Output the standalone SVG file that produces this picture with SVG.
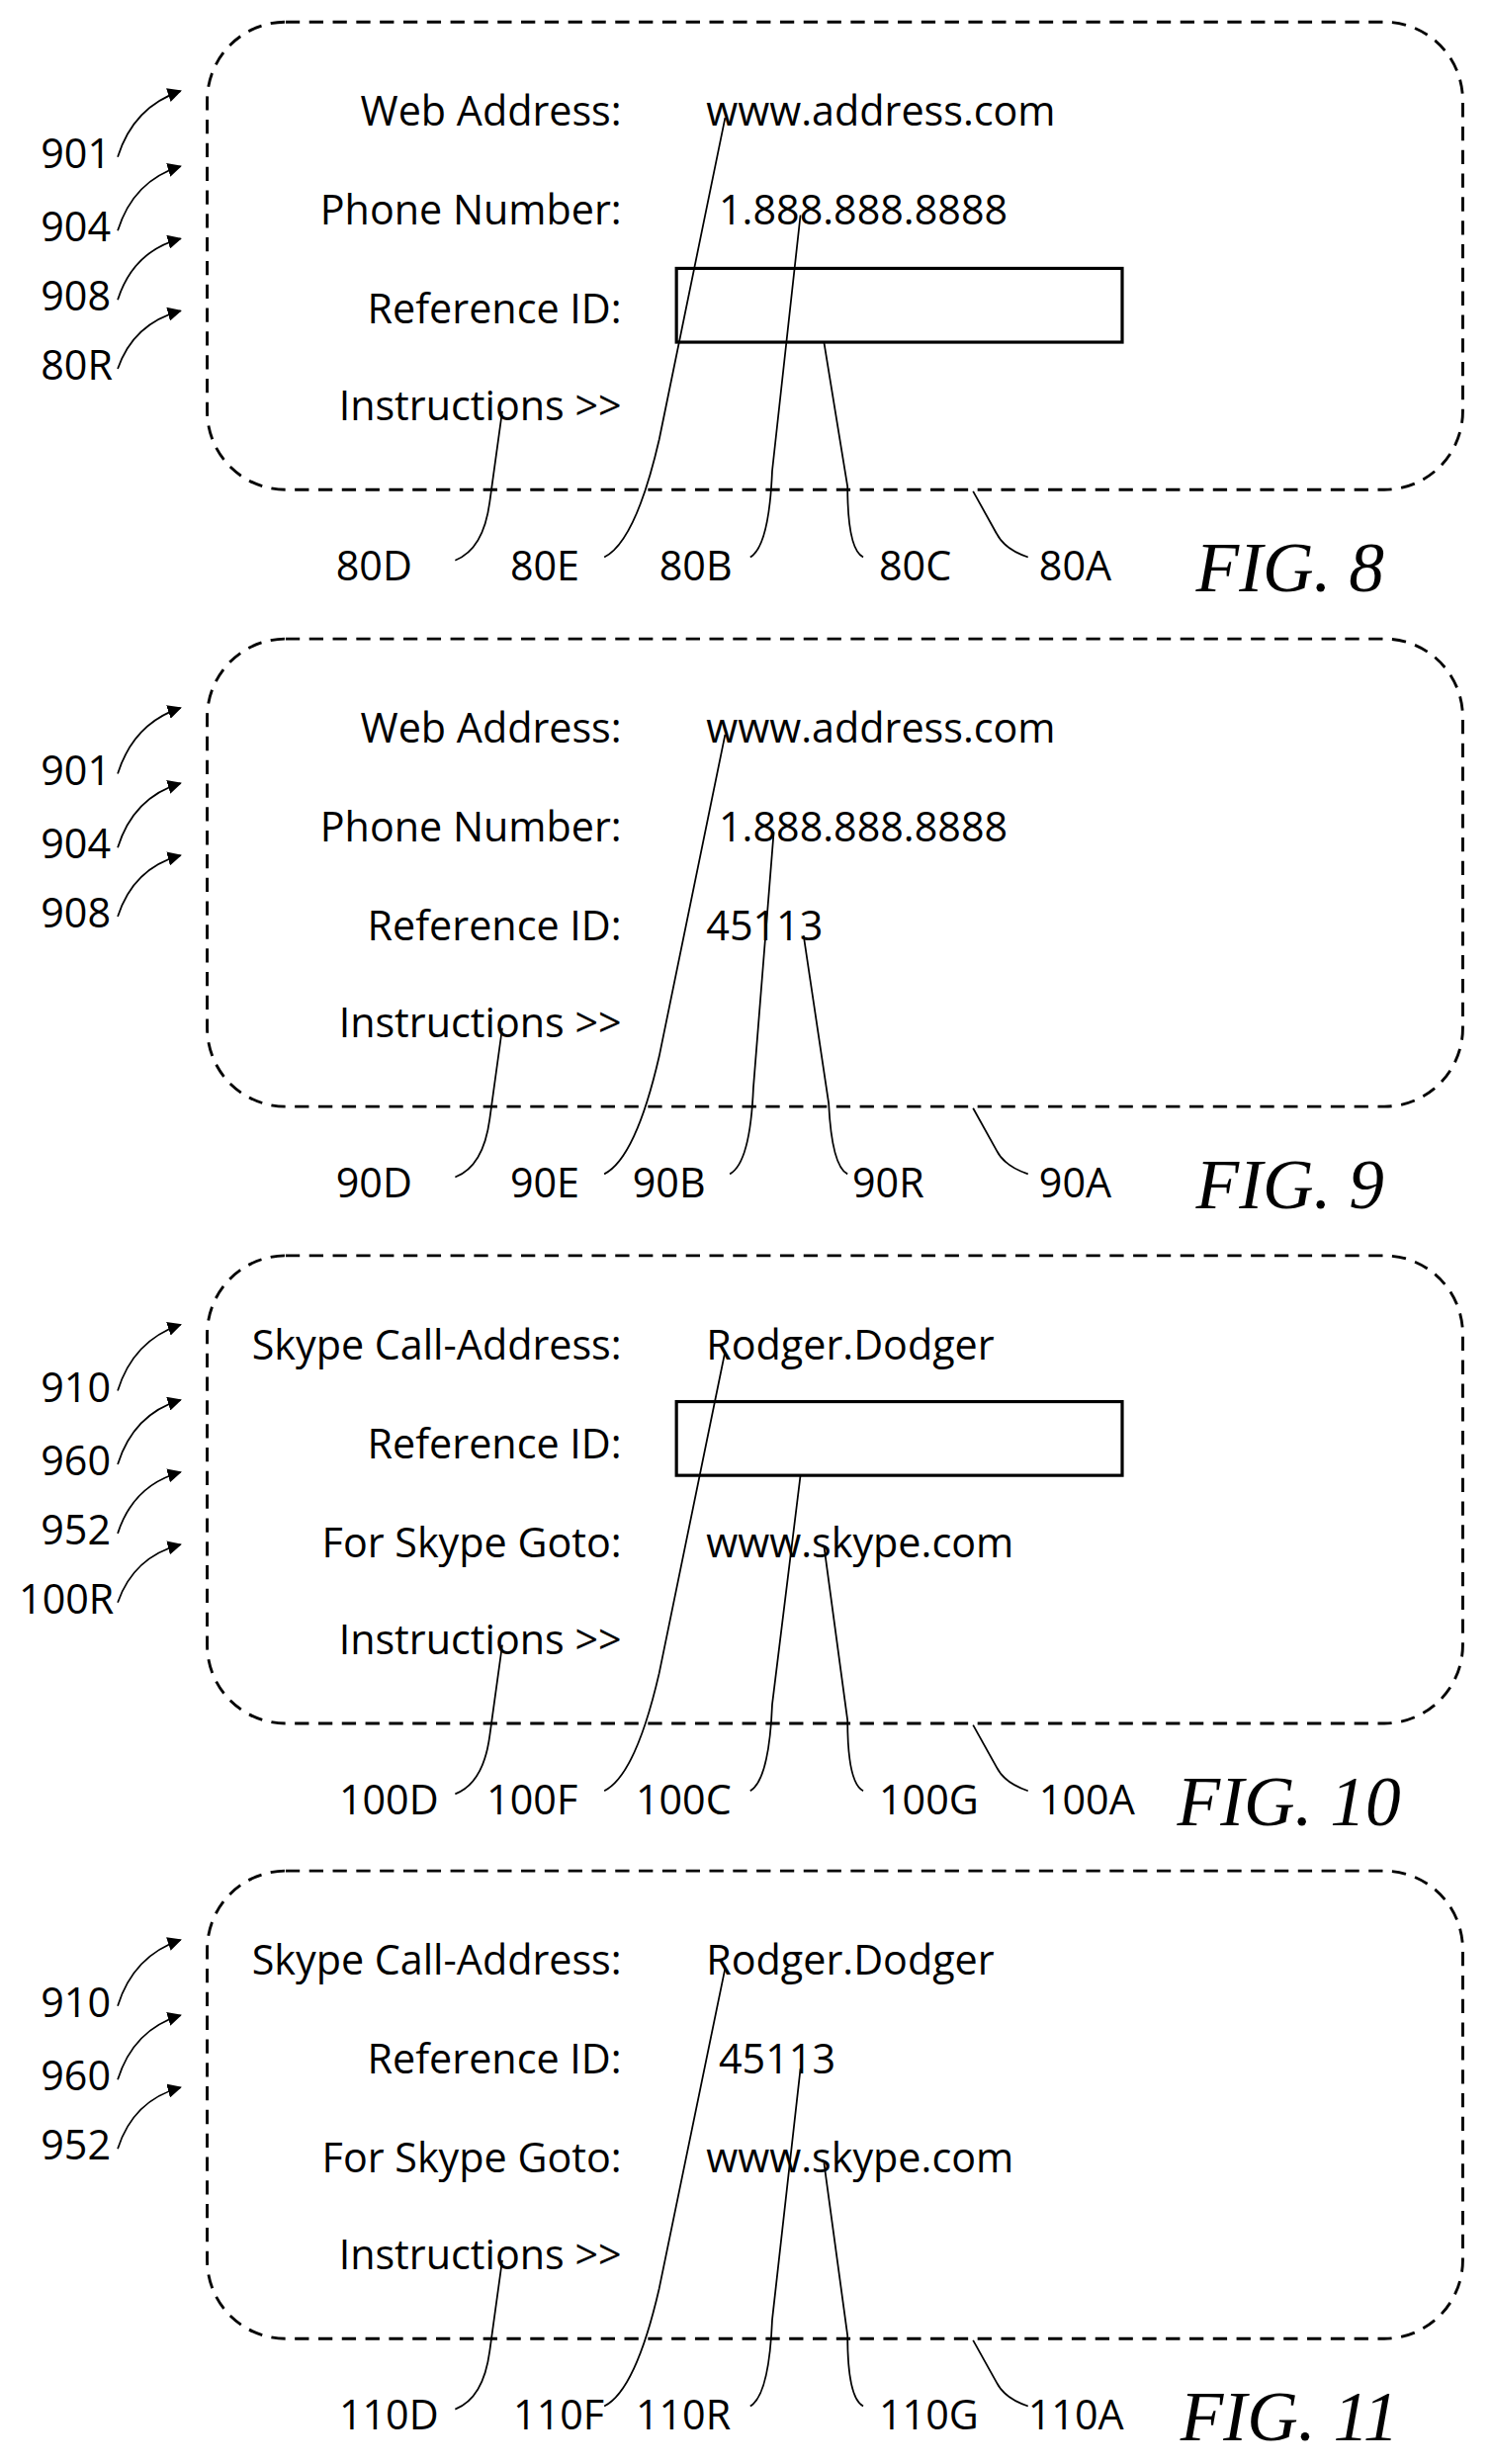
<svg xmlns="http://www.w3.org/2000/svg" width="1508" height="2492" viewBox="0 0 1508 2492">
<style>
.box{fill:none;stroke:#000;stroke-width:1.8;stroke-dasharray:9 6}
.ln{fill:none;stroke:#000;stroke-width:1.1}
.rt{fill:none;stroke:#000;stroke-width:2}
.t{font-family:"Open Sans","Liberation Sans",sans-serif;font-size:26px;fill:#000}
.r{text-anchor:end}
.fig{font-family:"Liberation Serif",serif;font-style:italic;font-size:45px;fill:#000}
</style>
<defs>
<marker id="ah" viewBox="0 0 10 10" refX="9" refY="5" markerWidth="9" markerHeight="9" markerUnits="userSpaceOnUse" orient="auto"><path d="M0,0 L10,5 L0,10 z" fill="#000"/></marker>
</defs>
<rect width="1508" height="2492" fill="#fff"/>
<!-- FIG 8 -->
<g id="fig8" transform="scale(1.5874)">
<rect class="box" x="132" y="14" width="800" height="298" rx="50"/>
<text class="t r" x="396" y="80">Web Address:</text>
<text class="t r" x="396" y="143">Phone Number:</text>
<text class="t r" x="396" y="206">Reference ID:</text>
<text class="t r" x="396" y="268">Instructions &gt;&gt;</text>
<text class="t" x="450" y="80">www.address.com</text>
<text class="t" x="458" y="143">1.888.888.8888</text>
<rect class="rt" x="431" y="171" width="284" height="47"/>
<text class="t" x="26" y="107">901</text><text class="t" x="26" y="154">904</text><text class="t" x="26" y="198">908</text><text class="t" x="26" y="242">80R</text>
<g class="ln"><path d="M75,100 Q85,68 115,58" marker-end="url(#ah)"/><path d="M75,147 Q85,115 115,106" marker-end="url(#ah)"/><path d="M75,191 Q85,160 115,152" marker-end="url(#ah)"/><path d="M75,235 Q85,206 115,198" marker-end="url(#ah)"/>
<path d="M290,357 Q308,350 312,320 L320,262"/><path d="M385,355 Q405,345 420,280 L462,75"/><path d="M478,355 Q490,348 492,300 L510,137"/><path d="M550,355 Q540,350 540,310 L525,218"/><path d="M655,355 Q640,350 635,340 L620,313"/></g>
<text class="t" x="214" y="370">80D</text><text class="t" x="325" y="370">80E</text><text class="t" x="420" y="370">80B</text><text class="t" x="560" y="370">80C</text><text class="t" x="662" y="370">80A</text>
<text class="fig" x="762" y="377">FIG. 8</text>
</g>
<!-- FIG 9 -->
<g id="fig9" transform="scale(1.5874) translate(0,393)">
<rect class="box" x="132" y="14" width="800" height="298" rx="50"/>
<text class="t r" x="396" y="80">Web Address:</text>
<text class="t r" x="396" y="143">Phone Number:</text>
<text class="t r" x="396" y="206">Reference ID:</text>
<text class="t r" x="396" y="268">Instructions &gt;&gt;</text>
<text class="t" x="450" y="80">www.address.com</text>
<text class="t" x="458" y="143">1.888.888.8888</text>
<text class="t" x="450" y="206">45113</text>
<text class="t" x="26" y="107">901</text><text class="t" x="26" y="154">904</text><text class="t" x="26" y="198">908</text>
<g class="ln"><path d="M75,100 Q85,68 115,58" marker-end="url(#ah)"/><path d="M75,147 Q85,115 115,106" marker-end="url(#ah)"/><path d="M75,191 Q85,160 115,152" marker-end="url(#ah)"/>
<path d="M290,357 Q308,350 312,320 L320,262"/><path d="M385,355 Q405,345 420,280 L462,75"/><path d="M465,355 Q478,348 480,300 L493,137"/><path d="M540,355 Q530,350 528,310 L512,203"/><path d="M655,355 Q640,350 635,340 L620,313"/></g>
<text class="t" x="214" y="370">90D</text><text class="t" x="325" y="370">90E</text><text class="t" x="403" y="370">90B</text><text class="t" x="543" y="370">90R</text><text class="t" x="662" y="370">90A</text>
<text class="fig" x="762" y="377">FIG. 9</text>
</g>
<!-- FIG 10 -->
<g id="fig10" transform="scale(1.5874) translate(0,786)">
<rect class="box" x="132" y="14" width="800" height="298" rx="50"/>
<text class="t r" x="396" y="80">Skype Call-Address:</text>
<text class="t r" x="396" y="143">Reference ID:</text>
<text class="t r" x="396" y="206">For Skype Goto:</text>
<text class="t r" x="396" y="268">Instructions &gt;&gt;</text>
<text class="t" x="450" y="80">Rodger.Dodger</text>
<rect class="rt" x="431" y="107" width="284" height="47"/>
<text class="t" x="450" y="206">www.skype.com</text>
<text class="t" x="26" y="107">910</text><text class="t" x="26" y="154">960</text><text class="t" x="26" y="198">952</text><text class="t" x="12" y="242">100R</text>
<g class="ln"><path d="M75,100 Q85,68 115,58" marker-end="url(#ah)"/><path d="M75,147 Q85,115 115,106" marker-end="url(#ah)"/><path d="M75,191 Q85,160 115,152" marker-end="url(#ah)"/><path d="M75,235 Q85,206 115,198" marker-end="url(#ah)"/>
<path d="M290,357 Q308,350 312,320 L320,262"/><path d="M385,355 Q405,345 420,280 L462,75"/><path d="M478,355 Q490,348 492,300 L510,154"/><path d="M550,355 Q540,350 540,310 L525,199"/><path d="M655,355 Q640,350 635,340 L620,313"/></g>
<text class="t" x="216" y="370">100D</text><text class="t" x="310" y="370">100F</text><text class="t" x="405" y="370">100C</text><text class="t" x="560" y="370">100G</text><text class="t" x="662" y="370">100A</text>
<text class="fig" x="750" y="377">FIG. 10</text>
</g>
<!-- FIG 11 -->
<g id="fig11" transform="scale(1.5874) translate(0,1178)">
<rect class="box" x="132" y="14" width="800" height="298" rx="50"/>
<text class="t r" x="396" y="80">Skype Call-Address:</text>
<text class="t r" x="396" y="143">Reference ID:</text>
<text class="t r" x="396" y="206">For Skype Goto:</text>
<text class="t r" x="396" y="268">Instructions &gt;&gt;</text>
<text class="t" x="450" y="80">Rodger.Dodger</text>
<text class="t" x="458" y="143">45113</text>
<text class="t" x="450" y="206">www.skype.com</text>
<text class="t" x="26" y="107">910</text><text class="t" x="26" y="154">960</text><text class="t" x="26" y="198">952</text>
<g class="ln"><path d="M75,100 Q85,68 115,58" marker-end="url(#ah)"/><path d="M75,147 Q85,115 115,106" marker-end="url(#ah)"/><path d="M75,191 Q85,160 115,152" marker-end="url(#ah)"/>
<path d="M290,357 Q308,350 312,320 L320,262"/><path d="M385,355 Q405,345 420,280 L462,76"/><path d="M478,355 Q490,348 492,300 L510,140"/><path d="M550,355 Q540,350 540,310 L525,200"/><path d="M655,355 Q640,350 635,340 L620,313"/></g>
<text class="t" x="216" y="370">110D</text><text class="t" x="327" y="370">110F</text><text class="t" x="405" y="370">110R</text><text class="t" x="560" y="370">110G</text><text class="t" x="655" y="370">110A</text>
<text class="fig" x="752" y="377">FIG. 11</text>
</g>
</svg>
